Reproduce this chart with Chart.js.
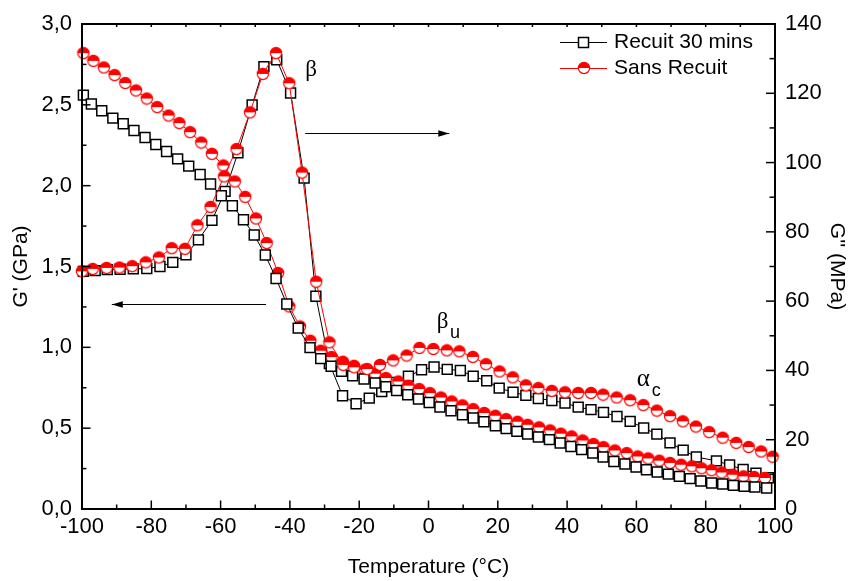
<!DOCTYPE html>
<html><head><meta charset="utf-8">
<script src="https://cdn.jsdelivr.net/npm/chart.js@4.4.1/dist/chart.umd.min.js"></script>
<style>html,body{margin:0;padding:0;background:#fff;}canvas{display:block;}</style>
</head><body>
<canvas id="c" width="851" height="581" style="width:851px;height:581px"></canvas>
<script>
// ---------- data ----------
const seriesLabels = ['Recuit 30 mins', 'Sans Recuit'];
const xTickLabels = ['-100','-80','-60','-40','-20','0','20','40','60','80','100'];
const gpTickLabels = ['0,0','0,5','1,0','1,5','2,0','2,5','3,0'];
const gppTickLabels = ['0','20','40','60','80','100','120','140'];

// G' (GPa) – Recuit 30 mins
const tempGpRecuit = [-99.6,-97.3,-94.3,-91.1,-88.1,-85.0,-81.8,-78.7,-75.6,-72.4,-69.2,-65.9,-62.9,-59.8,-56.6,-53.4,-50.3,-47.1,-44.0,-40.9,-37.6,-34.2,-31.1,-28.1,-25.1,-21.9,-18.6,-15.4,-12.3,-9.2,-6.0,-2.9,0.2,3.3,6.5,9.8,12.9,16.0,19.3,22.4,25.5,28.6,31.7,34.9,38.0,41.1,44.2,47.4,50.4,53.5,56.7,59.9,62.9,66.0,69.2,72.4,75.5,78.6,81.7,84.9,88.0,91.1,94.2,97.6];
const gpRecuit = [2.56,2.505,2.463,2.418,2.383,2.341,2.298,2.255,2.211,2.166,2.121,2.069,2.010,1.938,1.876,1.789,1.695,1.571,1.426,1.268,1.119,0.998,0.930,0.883,0.851,0.824,0.804,0.779,0.756,0.733,0.707,0.680,0.659,0.631,0.608,0.583,0.563,0.540,0.515,0.497,0.480,0.464,0.445,0.429,0.408,0.387,0.367,0.346,0.322,0.294,0.278,0.260,0.243,0.229,0.216,0.202,0.188,0.173,0.161,0.155,0.146,0.140,0.136,0.130];

// G' (GPa) – Sans Recuit
const tempGpSans = [-99.6,-96.7,-93.7,-90.6,-87.5,-84.4,-81.3,-78.3,-75.0,-71.9,-68.8,-65.6,-62.5,-59.2,-55.9,-52.9,-49.8,-46.7,-43.4,-40.2,-37.1,-34.1,-31.1,-28.0,-24.7,-21.5,-18.3,-15.4,-12.3,-8.7,-5.8,-2.7,0.4,3.6,6.7,9.8,12.9,16.1,19.3,22.4,25.7,28.6,31.9,35.1,38.2,41.3,44.5,47.6,50.5,53.8,57.2,60.4,63.4,66.6,69.7,72.9,76.0,78.8,81.7,84.6,87.8,90.9,94.0,97.1];
const gpSans = [2.820,2.772,2.731,2.684,2.635,2.589,2.539,2.486,2.434,2.387,2.331,2.267,2.197,2.125,2.026,1.931,1.797,1.645,1.460,1.253,1.129,1.041,0.979,0.940,0.911,0.886,0.862,0.837,0.810,0.789,0.763,0.742,0.717,0.690,0.665,0.641,0.618,0.594,0.577,0.556,0.540,0.521,0.505,0.486,0.466,0.449,0.424,0.402,0.383,0.362,0.346,0.325,0.313,0.299,0.285,0.274,0.264,0.252,0.240,0.226,0.212,0.202,0.198,0.192];

// G'' (MPa) – Recuit 30 mins
const tempGppRecuit = [-99.6,-96.2,-92.7,-89.0,-85.2,-81.3,-77.5,-73.8,-70.0,-66.4,-62.5,-58.7,-55.0,-50.9,-47.5,-43.8,-39.8,-35.9,-32.5,-28.6,-24.8,-20.9,-17.1,-13.5,-9.7,-5.8,-2.0,1.6,5.4,9.2,12.9,16.8,20.4,24.4,28.1,31.7,35.6,39.4,43.2,46.9,50.5,54.4,58.2,62.1,65.9,69.7,73.5,77.3,83.1,86.9,90.8,94.5,98.1];
const gppRecuit = [68.6,68.8,69.1,69.2,69.3,69.4,70.0,71.2,73.4,77.7,83.3,91.7,102.8,116.6,127.7,129.7,120.1,95.5,61.4,42.0,32.7,30.4,32.0,33.9,36.5,38.3,40.2,41.0,40.3,40.0,38.3,37.0,34.9,33.7,32.8,31.9,31.3,30.6,29.4,28.7,27.9,26.7,25.3,23.4,21.6,19.1,17.0,15.0,13.9,12.7,11.4,10.3,9.0];

// G'' (MPa) – Sans Recuit
const tempGppSans = [-100,-96.9,-92.9,-89.2,-85.5,-81.6,-77.8,-74.1,-70.3,-66.7,-62.9,-59.0,-55.4,-51.5,-47.8,-44.0,-40.2,-36.5,-32.4,-28.6,-24.6,-21.5,-17.7,-14.0,-10.2,-6.3,-2.6,1.4,5.3,8.9,12.8,16.6,20.5,24.3,28.1,31.7,35.6,39.4,43.2,46.9,50.4,54.3,58.2,62.0,65.9,69.7,73.4,77.2,81.0,84.9,88.8,92.4,96.0,99.3];
const gppSans = [68.6,69.3,69.6,69.7,70.1,71.2,72.6,75.3,75.1,81.9,87.2,96.0,103.9,114.5,125.6,131.6,122.9,97.1,65.6,48.1,41.6,40.9,40.4,41.6,42.9,44.3,46.5,46.2,45.8,45.5,43.9,41.8,39.7,38.0,35.7,34.9,34.1,33.7,33.5,33.5,33.0,32.2,31.4,30.0,28.4,26.8,25.3,23.8,22.2,20.6,19.1,17.9,16.6,15.1];

// ---------- helpers ----------
const zip = (xs, ys) => xs.map((x, i) => ({x: x, y: ys[i]}));
const SANS = '"Liberation Sans", Arial, sans-serif';
const SERIF = '"Liberation Serif", "Times New Roman", serif';
const RED = '#ff0000';

function makeHalfCircle(r, lw) {
  const size = 14;
  const c = document.createElement('canvas');
  c.width = size; c.height = size;
  const g = c.getContext('2d');
  const cx = size / 2, cy = size / 2;
  g.beginPath(); g.arc(cx, cy, r, 0, 2 * Math.PI); g.fillStyle = '#fff'; g.fill();
  g.beginPath(); g.arc(cx, cy, r, Math.PI, 2 * Math.PI); g.closePath(); g.fillStyle = RED; g.fill();
  g.beginPath(); g.arc(cx, cy, r, 0, 2 * Math.PI); g.strokeStyle = RED; g.lineWidth = lw; g.stroke();
  return c;
}
const redMarker = makeHalfCircle(5.6, 1.2);

const blackStyle = {borderColor: '#000', borderWidth: 1, pointStyle: 'rect', pointRadius: 7, pointHoverRadius: 7,
  pointBorderWidth: 1.5, pointBackgroundColor: '#fff', pointBorderColor: '#000', tension: 0, fill: false, clip: false};
const redStyle = {borderColor: RED, borderWidth: 1, pointStyle: redMarker, pointRadius: 6, pointHoverRadius: 6,
  pointBorderWidth: 0, pointBackgroundColor: RED, pointBorderColor: RED, tension: 0, fill: false, clip: false};

const tickLbl = (arr, min, step) => (v) => arr[Math.round((v - min) / step)];

// ---------- plugins ----------
const framePlugin = {
  id: 'frame',
  afterDatasetsDraw(chart) {
    const {ctx, chartArea: a, scales} = chart;
    ctx.save();
    ctx.strokeStyle = '#000';
    ctx.lineWidth = 2;
    ctx.strokeRect(a.left, a.top, a.right - a.left, a.bottom - a.top);
    ctx.lineWidth = 1.5;
    const seg = (x1, y1, x2, y2) => { ctx.beginPath(); ctx.moveTo(x1, y1); ctx.lineTo(x2, y2); ctx.stroke(); };
    const xs = scales.x;
    for (let v = xs.min; v <= xs.max + 1e-9; v += 10) {
      const p = xs.getPixelForValue(v);
      const major = Math.abs(v % 20) < 1e-9;
      seg(p, a.bottom, p, a.bottom - (major ? 8.5 : 4.5));
      seg(p, a.top, p, a.top + 3);
    }
    const yl = scales.y;
    for (let v = yl.min; v <= yl.max + 1e-9; v += 0.25) {
      const p = yl.getPixelForValue(v);
      const major = Math.abs((v / 0.5) - Math.round(v / 0.5)) < 1e-9;
      seg(a.left, p, a.left + (major ? 8.5 : 4.5), p);
    }
    const yr = scales.y2;
    for (let v = yr.min; v <= yr.max + 1e-9; v += 10) {
      const p = yr.getPixelForValue(v);
      const major = Math.abs(v % 20) < 1e-9;
      seg(a.right, p, a.right - (major ? 9 : 5.5), p);
    }
    ctx.restore();
  }
};

const annotPlugin = {
  id: 'annot',
  afterDraw(chart) {
    const {ctx, scales: {x, y, y2}} = chart;
    ctx.save();
    ctx.fillStyle = '#000';
    ctx.textAlign = 'left';
    ctx.textBaseline = 'alphabetic';
    const greek = '23px ' + SERIF, sub = '18px ' + SANS;
    const put = (txt, font, t, v) => { ctx.font = font; ctx.fillText(txt, x.getPixelForValue(t), y2.getPixelForValue(v)); };
    put('β', greek, -35.6, 125.1);
    put('β', greek, 2.4, 52.2); put('u', sub, 6.2, 49.35);
    put('α', '25px ' + SERIF, 60.1, 35.4); put('c', sub, 64.4, 32.5);

    const arrow = (x1, y1, x2, y2p) => {
      ctx.strokeStyle = '#000'; ctx.lineWidth = 1;
      ctx.beginPath(); ctx.moveTo(x1, y1 + 0.5); ctx.lineTo(x2, y2p + 0.5); ctx.stroke();
      const dir = Math.sign(x2 - x1);
      ctx.beginPath();
      ctx.moveTo(x2, y2p + 0.5);
      ctx.lineTo(x2 - dir * 11, y2p + 0.5 - 3.2);
      ctx.lineTo(x2 - dir * 11, y2p + 0.5 + 3.2);
      ctx.closePath(); ctx.fillStyle = '#000'; ctx.fill();
    };
    const ya = Math.round(y2.getPixelForValue(108.5));
    arrow(x.getPixelForValue(-35.6), ya, x.getPixelForValue(6.0), ya);
    const yb = Math.round(y.getPixelForValue(1.27));
    arrow(x.getPixelForValue(-46.9), yb, x.getPixelForValue(-91.4), yb);
    ctx.restore();
  }
};

const legendPlugin = {
  id: 'customLegend',
  afterDraw(chart) {
    const {ctx, chartArea: a} = chart;
    ctx.save();
    const x0 = a.right - 215, x1 = a.right - 168, xm = (x0 + x1) / 2, xt = a.right - 161;
    const rows = [a.top + 18, a.top + 44];
    ctx.font = '21px ' + SANS;
    ctx.textBaseline = 'middle';
    ctx.textAlign = 'left';
    // row 1: black squares
    let yy = Math.round(rows[0]) + 0.5;
    ctx.strokeStyle = '#000'; ctx.lineWidth = 1;
    ctx.beginPath(); ctx.moveTo(x0, yy); ctx.lineTo(x1, yy); ctx.stroke();
    ctx.fillStyle = '#fff'; ctx.fillRect(xm - 5, yy - 5, 10, 10);
    ctx.lineWidth = 1.5; ctx.strokeRect(xm - 5, yy - 5, 10, 10);
    ctx.fillStyle = '#000'; ctx.fillText(seriesLabels[0], xt, rows[0]);
    // row 2: red half circles
    yy = Math.round(rows[1]) + 0.5;
    ctx.strokeStyle = RED; ctx.lineWidth = 1;
    ctx.beginPath(); ctx.moveTo(x0, yy); ctx.lineTo(x1, yy); ctx.stroke();
    ctx.drawImage(redMarker, Math.round(xm) - 7, Math.round(rows[1]) - 7);
    ctx.fillStyle = '#000'; ctx.fillText(seriesLabels[1], xt, rows[1]);
    ctx.restore();
  }
};

// ---------- chart ----------
new Chart(document.getElementById('c').getContext('2d'), {
  type: 'line',
  data: {
    datasets: [
      Object.assign({label: seriesLabels[1] + " G''", data: zip(tempGppSans, gppSans), yAxisID: 'y2', order: 0}, redStyle),
      Object.assign({label: seriesLabels[0] + " G'", data: zip(tempGpRecuit, gpRecuit), yAxisID: 'y', order: 1}, blackStyle),
      Object.assign({label: seriesLabels[1] + " G'", data: zip(tempGpSans, gpSans), yAxisID: 'y', order: 2}, redStyle),
      Object.assign({label: seriesLabels[0] + " G''", data: zip(tempGppRecuit, gppRecuit), yAxisID: 'y2', order: 3}, blackStyle)
    ]
  },
  options: {
    responsive: false,
    animation: false,
    events: [],
    layout: {padding: {top: 24, left: 0, right: 0, bottom: 0}},
    plugins: {legend: {display: false}, tooltip: {enabled: false}},
    scales: {
      x: {
        type: 'linear', position: 'bottom', min: -100, max: 100,
        grid: {display: false, drawTicks: false}, border: {display: false},
        ticks: {stepSize: 20, padding: 5, color: '#000', font: {family: SANS, size: 22}, maxRotation: 0,
          callback: tickLbl(xTickLabels, -100, 20)},
        title: {display: true, text: 'Temperature (°C)', color: '#000', font: {family: SANS, size: 21}, padding: {top: 0, bottom: 1}},
        afterFit(s) { s.height = 72; }
      },
      y: {
        type: 'linear', position: 'left', min: 0, max: 3,
        grid: {display: false, drawTicks: false}, border: {display: false},
        ticks: {stepSize: 0.5, padding: 10, color: '#000', font: {family: SANS, size: 22},
          callback: tickLbl(gpTickLabels, 0, 0.5)},
        title: {display: true, text: "G' (GPa)", color: '#000', font: {family: SANS, size: 21}, padding: {top: 8.5, bottom: 0}},
        afterFit(s) { s.width = 82; }
      },
      y2: {
        type: 'linear', position: 'right', min: 0, max: 140,
        grid: {display: false, drawTicks: false}, border: {display: false},
        ticks: {stepSize: 20, padding: 10, color: '#000', font: {family: SANS, size: 22},
          callback: tickLbl(gppTickLabels, 0, 20)},
        title: {display: true, text: "G'' (MPa)", color: '#000', font: {family: SANS, size: 21}, padding: {top: 1.4, bottom: 0}},
        afterFit(s) { s.width = 76; }
      }
    }
  },
  plugins: [framePlugin, annotPlugin, legendPlugin]
});
</script>
</body></html>
